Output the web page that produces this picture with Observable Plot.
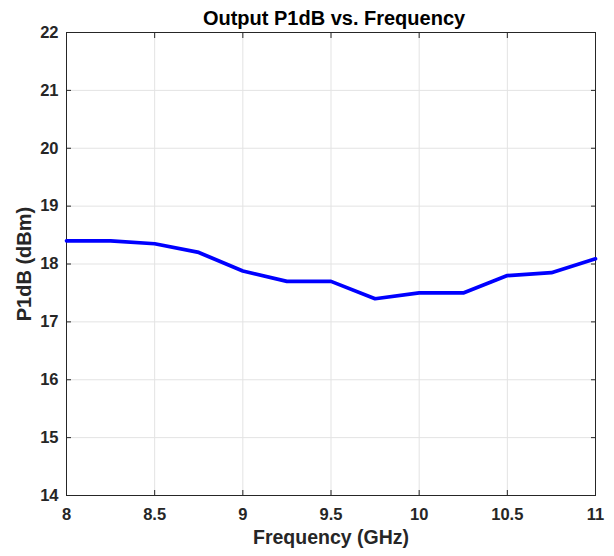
<!DOCTYPE html>
<html><head><meta charset="utf-8">
<script src="https://cdn.jsdelivr.net/npm/d3@7"></script>
<script src="https://cdn.jsdelivr.net/npm/@observablehq/plot@0.6"></script>
<style>body{margin:0;background:#fff;} svg{font-family:"Liberation Sans",Arial,sans-serif;}</style>
</head><body><div id="chart"></div>
<script>
const freq = [8, 8.25, 8.5, 8.75, 9, 9.25, 9.5, 9.75, 10, 10.25, 10.5, 10.75, 11];
const p1db = [18.4, 18.4, 18.35, 18.2, 17.88, 17.7, 17.7, 17.4, 17.5, 17.5, 17.8, 17.85, 18.09];
const xTicks = [8, 8.5, 9, 9.5, 10, 10.5, 11];
const yTicks = [14, 15, 16, 17, 18, 19, 20, 21, 22];
const title = "Output P1dB vs. Frequency";
const xLabel = "Frequency (GHz)";
const yLabel = "P1dB (dBm)";

const data = freq.map((f, i) => ({f, p: p1db[i]}));
const fmt = d => String(d);

const chart = Plot.plot({
  width: 614, height: 556,
  marginTop: 32, marginLeft: 66, marginRight: 19, marginBottom: 61,
  style: {fontFamily: "'Liberation Sans', Arial, sans-serif", background: "#fff", color: "#262626"},
  x: {domain: [8, 11], ticks: xTicks},
  y: {domain: [14, 22], ticks: yTicks},
  marks: [
    Plot.gridX(xTicks, {stroke: "#e3e3e3", strokeOpacity: 1}),
    Plot.gridY(yTicks, {stroke: "#e3e3e3", strokeOpacity: 1}),
    Plot.axisX(xTicks, {anchor: "bottom", tickSize: -5, text: null, stroke: "#262626", label: null}),
    Plot.axisX(xTicks, {anchor: "top", tickSize: -5, text: null, stroke: "#262626", label: null}),
    Plot.axisY(yTicks, {anchor: "left", tickSize: -5, text: null, stroke: "#262626", label: null}),
    Plot.axisY(yTicks, {anchor: "right", tickSize: -5, text: null, stroke: "#262626", label: null}),
    Plot.axisX(xTicks, {anchor: "bottom", tickSize: 0, tickPadding: 13, tickFormat: fmt, fontSize: 16.5, fontWeight: "bold", fill: "#262626", label: null}),
    Plot.axisY(yTicks, {anchor: "left", tickSize: 0, tickPadding: 8, tickFormat: fmt, fontSize: 16.5, fontWeight: "bold", fill: "#262626", label: null}),
    Plot.frame({stroke: "#262626", strokeWidth: 1}),
    Plot.line(data, {x: "f", y: "p", stroke: "#0000ff", strokeWidth: 3.7}),
    Plot.text([title], {frameAnchor: "top", dy: -22, dx: 3, fontSize: 20, fontWeight: "bold", fill: "#000"}),
    Plot.text([xLabel], {frameAnchor: "bottom", dy: 48, fontSize: 19.5, fontWeight: "bold", fill: "#262626"}),
    Plot.text([yLabel], {frameAnchor: "left", textAnchor: "middle", dx: -42, rotate: -90, fontSize: 20, fontWeight: "bold", fill: "#262626"})
  ]
});
document.getElementById("chart").appendChild(chart);
</script></body></html>
